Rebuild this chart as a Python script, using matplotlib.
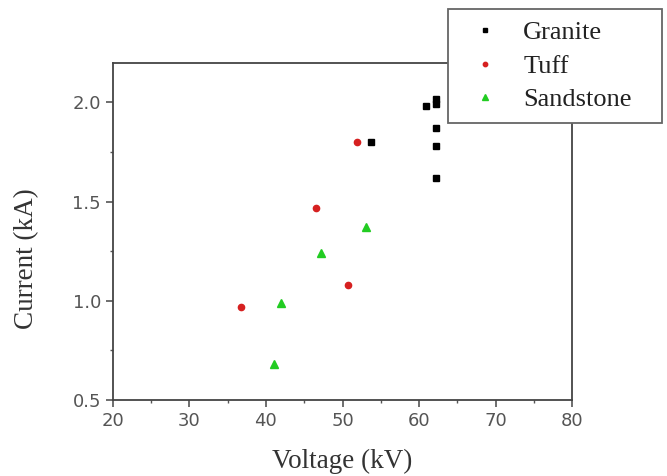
import matplotlib.pyplot as plt
from matplotlib.ticker import MultipleLocator

# data
granite_v = [53.7, 60.9, 62.2, 62.2, 62.2, 62.2, 62.2]
granite_i = [1.80, 1.98, 2.02, 1.99, 1.87, 1.78, 1.62]

tuff_v = [36.7, 46.5, 50.7, 51.9]
tuff_i = [0.97, 1.47, 1.08, 1.80]

sandstone_v = [41.0, 42.0, 47.2, 53.1]
sandstone_i = [0.68, 0.99, 1.24, 1.37]

fig = plt.figure(figsize=(6.67, 4.76), dpi=100)
ax = fig.add_axes([0.169, 0.160, 0.689, 0.708])

ax.plot(granite_v, granite_i, "s", color="black", markersize=4.5, label="Granite")
ax.plot(tuff_v, tuff_i, "o", color="#d62020", markersize=4.5, label="Tuff")
ax.plot(sandstone_v, sandstone_i, "^", color="#22cc22", markersize=5.5, label="Sandstone")

ax.set_xlim(20, 80)
ax.set_ylim(0.5, 2.2)
ax.xaxis.set_major_locator(MultipleLocator(10))
ax.xaxis.set_minor_locator(MultipleLocator(5))
ax.yaxis.set_major_locator(MultipleLocator(0.5))
ax.yaxis.set_minor_locator(MultipleLocator(0.25))
ax.tick_params(which="major", direction="out", length=5, width=1.2, colors="#555555",
               labelsize=13, labelcolor="#555555")
ax.tick_params(which="minor", direction="out", length=2.5, width=1, colors="#555555")
ax.yaxis.set_major_formatter(plt.FuncFormatter(lambda v, p: f"{v:.1f}"))

for s in ax.spines.values():
    s.set_color("#444444")
    s.set_linewidth(1.3)

ax.set_xlabel("Voltage (kV)", family="Liberation Serif", fontsize=19.5, color="#333333", labelpad=14)
ax.set_ylabel("Current (kA)", family="Liberation Serif", fontsize=19.5, color="#333333")
ax.yaxis.set_label_coords(-0.161, 0.42)

leg = fig.legend(loc="upper left", bbox_to_anchor=(448 / 667, 1 - 9 / 476, 214 / 667, 0),
                 bbox_transform=fig.transFigure, mode="expand",
                 prop={"family": "Liberation Serif", "size": 19}, fancybox=False,
                 edgecolor="#666666", framealpha=1, markerscale=0.7,
                 handlelength=1.88, handletextpad=0.52, borderpad=0.45, labelspacing=0.38, borderaxespad=0)
leg.get_frame().set_linewidth(1.3)
for t in leg.get_texts():
    t.set_color("#222222")

fig.savefig("out.png", dpi=100)
